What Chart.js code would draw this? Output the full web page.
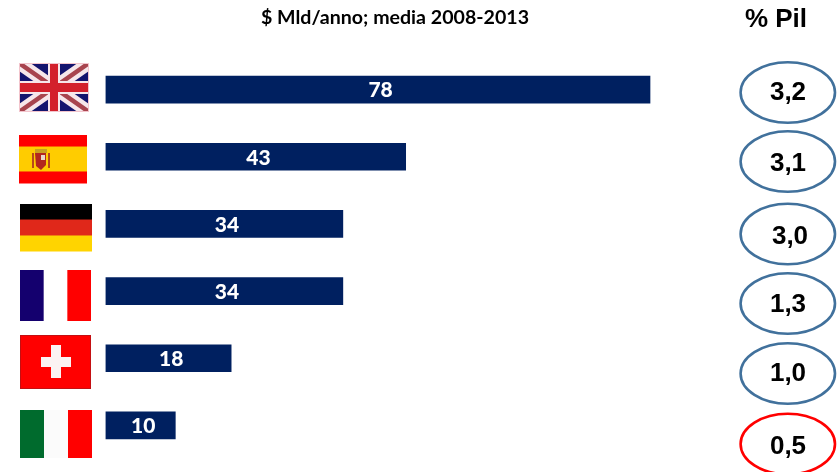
<!DOCTYPE html>
<html>
<head>
<meta charset="utf-8">
<title>Mld/anno</title>
<script src="https://cdn.jsdelivr.net/npm/chart.js@4"></script>
<style>
    html, body { margin: 0; padding: 0; background: #fff; }
    canvas { display: block; }
</style>
</head>
<body>
<canvas id="chart" width="839" height="472"></canvas>
<script>
// data
var countries = ["Regno Unito", "Spagna", "Germania", "Francia", "Svizzera", "Italia"];
var mldValues = [78, 43, 34, 34, 18, 10];
var pilLabels = ["3,2", "3,1", "3,0", "1,3", "1,0", "0,5"];

var chartTitle = "$ Mld/anno; media 2008-2013";
var pilTitle = "% Pil";

// flag boxes and ellipses, these are decoration and do not come from the scales
var flagBoxes = [
    { x: 19, y: 63, w: 70, h: 49 },
    { x: 19, y: 135, w: 68, h: 48 },
    { x: 20, y: 204, w: 72, h: 47 },
    { x: 20, y: 270, w: 71, h: 51 },
    { x: 20, y: 335, w: 71, h: 54 },
    { x: 20, y: 410, w: 72, h: 48 }
];
var ellipseY = [92.5, 161.5, 234, 303.5, 373.5, 444];
var ellipseTextY = [93, 164, 237, 305, 374, 447];
var ellipseTextX = [788, 788, 790, 788, 788, 788];

function vertical(ctx, b, colors) {
    var w = b.w / colors.length;
    colors.forEach(function (c, i) {
        ctx.fillStyle = c;
        ctx.fillRect(b.x + i * w, b.y, w + (i < colors.length - 1 ? 0.5 : 0), b.h);
    });
}

function horizontal(ctx, b, colors, parts) {
    var y = b.y;
    colors.forEach(function (c, i) {
        var h = b.h * parts[i];
        ctx.fillStyle = c;
        ctx.fillRect(b.x, y, b.w, h + 0.5);
        y += h;
    });
}

function unionJack(ctx, b) {
    ctx.save();
    ctx.beginPath();
    ctx.rect(b.x, b.y, b.w, b.h);
    ctx.clip();
    ctx.fillStyle = "#14146e";
    ctx.fillRect(b.x, b.y, b.w, b.h);
    // white and red diagonals
    ctx.lineCap = "butt";
    ctx.strokeStyle = "#f6e6ea";
    ctx.lineWidth = 13;
    ctx.beginPath();
    ctx.moveTo(b.x, b.y);
    ctx.lineTo(b.x + b.w, b.y + b.h);
    ctx.moveTo(b.x + b.w, b.y);
    ctx.lineTo(b.x, b.y + b.h);
    ctx.stroke();
    ctx.strokeStyle = "#a8444e";
    ctx.lineWidth = 4.5;
    ctx.stroke();
    // the upright cross
    var cx = b.x + b.w / 2;
    var cy = b.y + b.h / 2;
    ctx.fillStyle = "#f6e6ea";
    ctx.fillRect(cx - 6, b.y, 12, b.h);
    ctx.fillRect(b.x, cy - 6.5, b.w, 13);
    ctx.fillStyle = "#d3202c";
    ctx.fillRect(cx - 4, b.y, 8, b.h);
    ctx.fillRect(b.x, cy - 4.5, b.w, 9);
    ctx.restore();
    ctx.strokeStyle = "#f2c4cc";
    ctx.lineWidth = 1;
    ctx.strokeRect(b.x + 0.5, b.y + 0.5, b.w - 1, b.h - 1);
}

function spain(ctx, b) {
    horizontal(ctx, b, ["#ff0000", "#ffcc00", "#ff0000"], [0.24, 0.52, 0.24]);
    // small coat of arms
    ctx.fillStyle = "#b8491a";
    ctx.fillRect(b.x + 13, b.y + 18, 2, 15);
    ctx.fillRect(b.x + 29, b.y + 18, 2, 15);
    ctx.fillStyle = "#c9a020";
    ctx.fillRect(b.x + 16, b.y + 14, 12, 4);
    ctx.fillStyle = "#b3261e";
    ctx.beginPath();
    ctx.moveTo(b.x + 16, b.y + 18);
    ctx.lineTo(b.x + 27, b.y + 18);
    ctx.lineTo(b.x + 27, b.y + 30);
    ctx.lineTo(b.x + 22, b.y + 35);
    ctx.lineTo(b.x + 17, b.y + 31);
    ctx.closePath();
    ctx.fill();
    ctx.fillStyle = "#e8d8c8";
    ctx.fillRect(b.x + 22, b.y + 20, 4, 5);
}

function swiss(ctx, b) {
    ctx.fillStyle = "#ff0000";
    ctx.fillRect(b.x, b.y, b.w, b.h);
    ctx.strokeStyle = "#c40f12";
    ctx.lineWidth = 1;
    ctx.strokeRect(b.x + 0.5, b.y + 0.5, b.w - 1, b.h - 1);
    ctx.fillStyle = "#fbf3f3";
    ctx.fillRect(b.x + 31, b.y + 10, 10, 33);
    ctx.fillRect(b.x + 21, b.y + 22, 30, 10);
}

var flagPainters = [
    unionJack,
    spain,
    function (ctx, b) { horizontal(ctx, b, ["#000000", "#e0281a", "#ffd400"], [0.33, 0.34, 0.33]); },
    function (ctx, b) { vertical(ctx, b, ["#14006e", "#ffffff", "#ff0000"]); },
    swiss,
    function (ctx, b) { vertical(ctx, b, ["#006b2d", "#fbfbfb", "#ff0000"]); }
];

// draws the value labels on the bars plus everything around the plot
var extrasPlugin = {
    id: "extras",
    afterDatasetsDraw: function (chart) {
        var ctx = chart.ctx;
        ctx.save();
        ctx.textAlign = "center";
        ctx.textBaseline = "middle";

        // value in the middle of each bar, the original sits a bit to the right
        ctx.fillStyle = "#ffffff";
        ctx.font = "900 21px Lato, 'Open Sans', sans-serif";
        chart.getDatasetMeta(0).data.forEach(function (bar, i) {
            ctx.fillText(String(mldValues[i]), (bar.x + bar.base) / 2 + 2.8, bar.y + 1);
        });

        ctx.fillStyle = "#000000";
        ctx.font = "bold 19.6px Lato, 'Open Sans', sans-serif";
        ctx.fillText(chartTitle, 395, 18);
        ctx.font = "bold 26px 'Liberation Sans', Arial, sans-serif";
        ctx.fillText(pilTitle, 776, 20);

        flagBoxes.forEach(function (box, i) {
            flagPainters[i](ctx, box);
        });

        // ellipses with the % Pil figures, last one is red
        pilLabels.forEach(function (label, i) {
            ctx.beginPath();
            ctx.ellipse(787.8, ellipseY[i], 47.2, 30.3, 0, 0, Math.PI * 2);
            ctx.lineWidth = 2.6;
            ctx.strokeStyle = i === pilLabels.length - 1 ? "#ff0000" : "#41719c";
            ctx.stroke();
            ctx.fillStyle = "#000000";
            ctx.font = "bold 26px 'Liberation Sans', Arial, sans-serif";
            ctx.fillText(label, ellipseTextX[i], ellipseTextY[i]);
        });
        ctx.restore();
    }
};

new Chart(document.getElementById("chart").getContext("2d"), {
    type: "bar",
    data: {
        labels: countries,
        datasets: [{
            data: mldValues,
            backgroundColor: "#002060",
            borderWidth: 0,
            barThickness: 27
        }]
    },
    options: {
        indexAxis: "y",
        responsive: false,
        animation: false,
        layout: { padding: { left: 105.5, right: 0.5, top: 56, bottom: 13 } },
        scales: {
            x: { display: false, min: 0, max: 105 },
            y: { display: false }
        },
        plugins: {
            legend: { display: false },
            title: { display: false },
            tooltip: { enabled: false }
        }
    },
    plugins: [extrasPlugin]
});
</script>
</body>
</html>
